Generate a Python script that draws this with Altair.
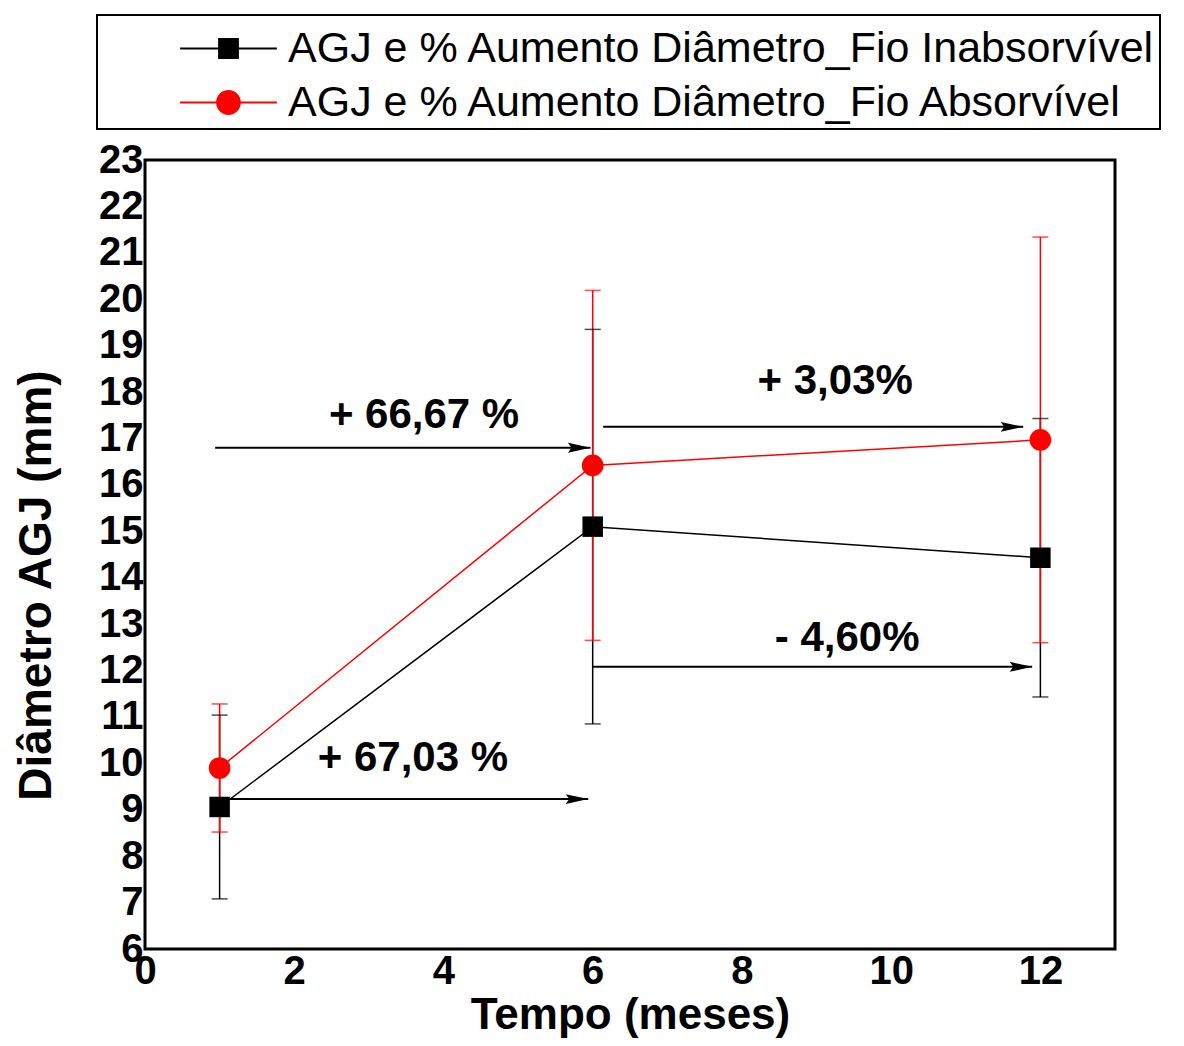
import altair as alt
import pandas as pd

# ---------------- data ----------------
months = [1, 6, 12]
series_names = [
    "AGJ e % Aumento Diâmetro_Fio Inabsorvível",
    "AGJ e % Aumento Diâmetro_Fio Absorvível",
]
series_colors = ["#000000", "#ff0000"]
series_shapes = ["square", "circle"]
series_sizes = [420, 470]
inabs_mean = [9.06, 15.10, 14.43]
inabs_err = [1.98, 4.25, 3.00]
abs_mean = [9.90, 16.42, 16.97]
abs_err = [1.38, 3.77, 4.37]

x_ticks = [0, 2, 4, 6, 8, 10, 12]
y_ticks = list(range(6, 24))

arrow_labels = ["+ 66,67 %", "+ 67,03 %", "+ 3,03%", "- 4,60%"]
arrow_x_start = [0.94, 1.14, 6.14, 6.00]
arrow_x_end = [5.97, 5.94, 11.77, 11.89]
arrow_y = [16.80, 9.23, 17.25, 12.08]
label_x = [3.74, 3.59, 9.25, 9.41]
label_y = [17.51, 10.12, 18.24, 12.70]

# ---------------- tables ----------------
rows = []
for name, means, errs in [
    (series_names[0], inabs_mean, inabs_err),
    (series_names[1], abs_mean, abs_err),
]:
    for m, v, e in zip(months, means, errs):
        rows.append({"series": name, "x": m, "y": v, "lo": v - e, "hi": v + e})
df = pd.DataFrame(rows)

arrows = pd.DataFrame({
    "label": arrow_labels, "x0": arrow_x_start, "x1": arrow_x_end,
    "y": arrow_y, "lx": label_x, "ly": label_y,
})

FONT = "Liberation Sans"
xscale = alt.Scale(domain=[0, 13], nice=False, zero=False)
yscale = alt.Scale(domain=[6, 23], nice=False, zero=False)
cscale = alt.Scale(domain=series_names, range=series_colors)

x_axis = alt.Axis(
    values=x_ticks, title="Tempo (meses)", ticks=False, grid=False, domain=False,
    labelFont=FONT, labelFontSize=40, labelFontWeight="bold", labelColor="black",
    labelPadding=2, labelFlush=False, labelOverlap=False,
    titleFont=FONT, titleFontSize=44, titleFontWeight="bold", titleColor="black",
    titleY=79, titleBaseline="alphabetic",
)
y_axis = alt.Axis(
    values=y_ticks, title="Diâmetro AGJ (mm)", ticks=False, grid=False, domain=False,
    labelFont=FONT, labelFontSize=40, labelFontWeight="bold", labelColor="black",
    labelPadding=2, labelFlush=False, labelOverlap=False,
    titleFont=FONT, titleFontSize=46, titleFontWeight="bold", titleColor="black",
    titleX=-109, titleY=425, titleAngle=270, titleAlign="center", titleBaseline="middle",
)

X = lambda f: alt.X(f, scale=xscale, axis=x_axis)
Y = lambda f: alt.Y(f, scale=yscale, axis=y_axis)
C = alt.Color("series:N", scale=cscale, legend=None)

base = alt.Chart(df)

lines = base.mark_line(strokeWidth=1.5).encode(
    x=X("x:Q"), y=Y("y:Q"), color=C
)
err = base.mark_rule(strokeWidth=1.5).encode(
    x=X("x:Q"), y=Y("lo:Q"), y2="hi:Q", color=C
)
caps = base.transform_fold(["lo", "hi"], as_=["end", "val"]).mark_tick(
    orient="horizontal", size=16, thickness=1.5
).encode(x=X("x:Q"), y=Y("val:Q"), color=C)

point_layers = []
for name, shp, sz in zip(series_names, series_shapes, series_sizes):
    point_layers.append(
        base.transform_filter(alt.datum.series == name)
        .mark_point(filled=True, opacity=1, shape=shp, size=sz)
        .encode(x=X("x:Q"), y=Y("y:Q"), color=C)
    )

legend_paths = [
    "M-2.42,-0.05H-0.5V0.05H-2.42Z M0.5,-0.05H2.42V0.05H0.5Z M-0.52,-0.52H0.52V0.52H-0.52Z",
    "M-2.42,-0.05H-0.55V0.05H-2.42Z M0.55,-0.05H2.42V0.05H0.55Z M0.62,0A0.62,0.62,0,1,1,-0.62,0A0.62,0.62,0,1,1,0.62,0Z",
]
leg = alt.Legend(title=" ")
# legend-only layer (marks fully transparent; only its legend is seen)
legend_layer = base.mark_point(filled=True, size=1600, opacity=0).encode(
    x=X("x:Q"), y=Y("y:Q"),
    fill=alt.Fill("series:N", scale=cscale, legend=leg),
    shape=alt.Shape("series:N", scale=alt.Scale(domain=series_names, range=legend_paths), legend=leg),
)

arrow_lines = alt.Chart(arrows).mark_rule(strokeWidth=2, color="black").encode(
    x=X("x0:Q"), x2="x1:Q", y=Y("y:Q")
)
arrow_heads = alt.Chart(arrows).mark_point(
    shape="M-2.5,-0.55L0,0L-2.5,0.55L-2.1,0Z", filled=True, size=324, color="black", opacity=1
).encode(x=X("x1:Q"), y=Y("y:Q"))
arrow_text = alt.Chart(arrows).mark_text(
    font=FONT, fontSize=42, fontWeight="bold", color="black", align="center", baseline="middle"
).encode(x=X("lx:Q"), y=Y("ly:Q"), text="label:N")

chart = alt.layer(
    lines, err, caps, *point_layers, legend_layer, arrow_lines, arrow_heads, arrow_text
).resolve_scale(fill="independent", shape="independent").properties(
    width=970, height=789,
    autosize=alt.AutoSizeParams(type="none"),
    padding={"left": 137, "top": 152, "right": 61, "bottom": 89},
).configure_view(
    stroke="black", strokeWidth=3
).configure_legend(
    orient="none", legendX=-48, legendY=-145,
    strokeColor="black", strokeWidth=2, fillColor="white", padding=4,
    labelFont=FONT, labelFontSize=43, labelColor="black", labelLimit=3000,
    labelOffset=38, symbolOffset=106, symbolSize=1600, symbolStrokeWidth=0,
    symbolOpacity=1, rowPadding=10, titleFontSize=8, titlePadding=0,
)

chart.save("out.html", embed_options={"renderer": "svg", "actions": False})
